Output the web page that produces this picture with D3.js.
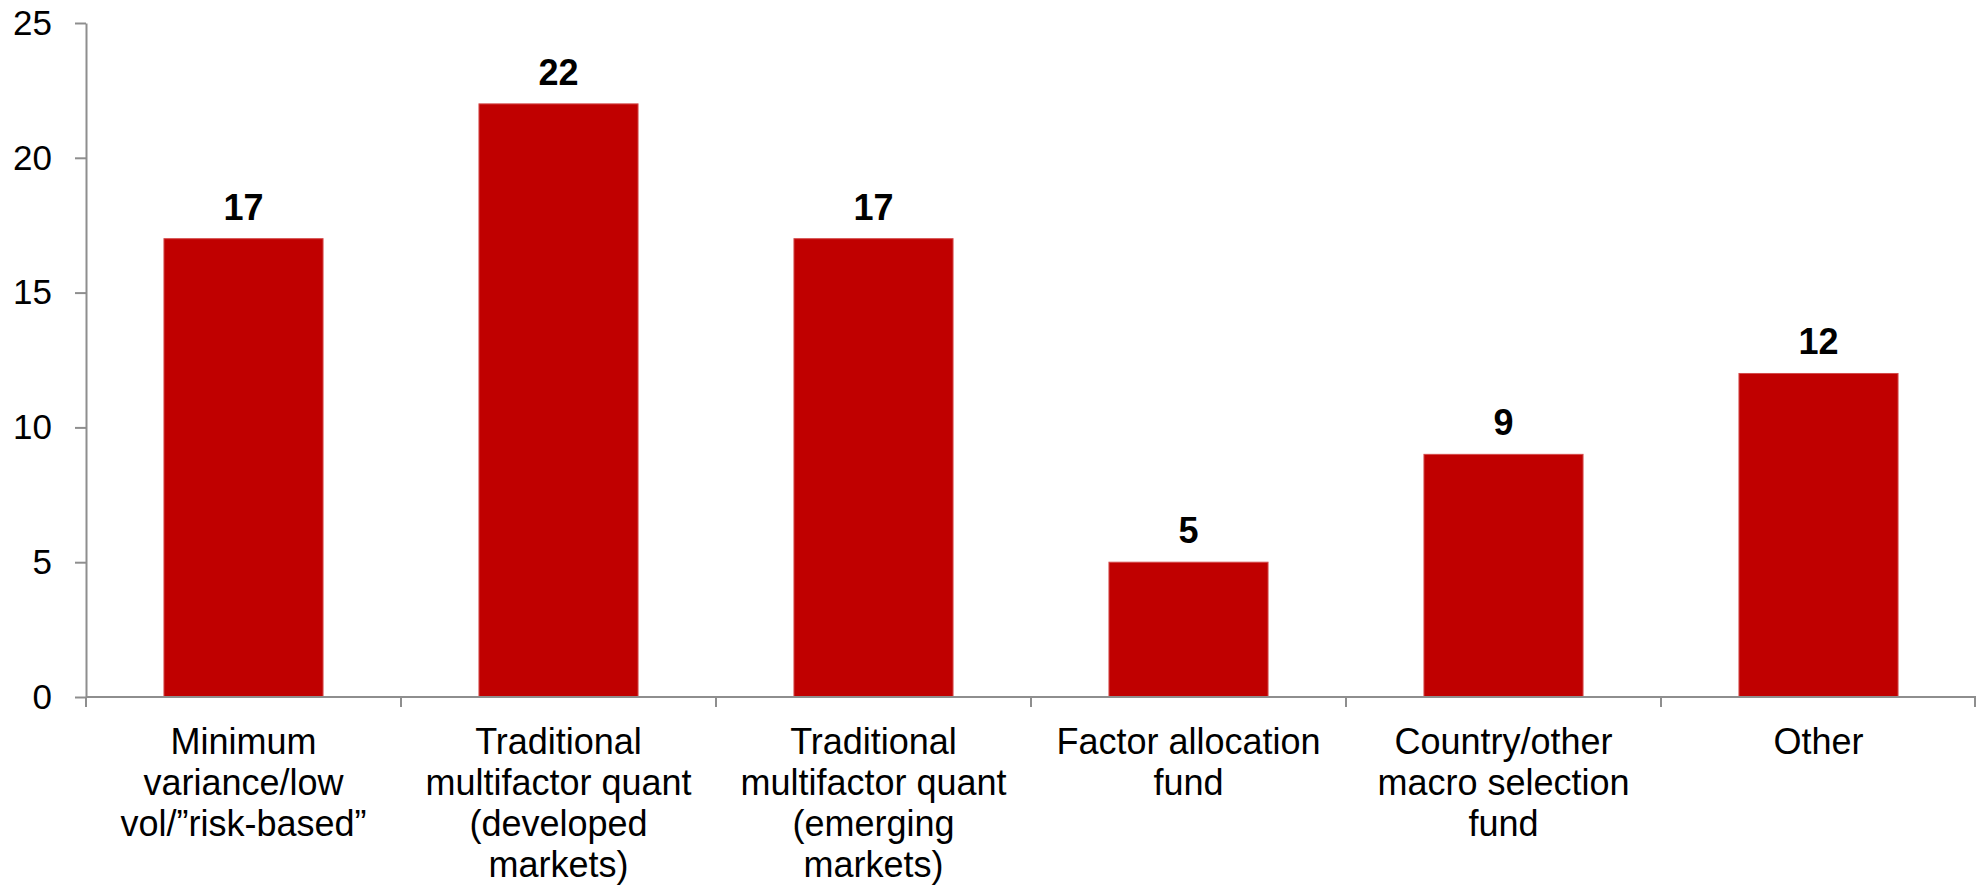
<!DOCTYPE html>
<html>
<head>
<meta charset="utf-8">
<script src="https://cdn.jsdelivr.net/npm/d3@7"></script>
<style>
  body { margin: 0; background: #fff; }
  text { font-family: "Liberation Sans", Arial, sans-serif; }
</style>
</head>
<body>
<svg id="chart" width="1985" height="890"></svg>
<script>
// categories (split into lines as in the original) and values
let categories = [
    ["Minimum", "variance/low", "vol/\u201drisk-based\u201d"],
    ["Traditional", "multifactor quant", "(developed", "markets)"],
    ["Traditional", "multifactor quant", "(emerging", "markets)"],
    ["Factor allocation", "fund"],
    ["Country/other", "macro selection", "fund"],
    ["Other"]
];
let values = [17, 22, 17, 5, 9, 12];
let yTicks = [0, 5, 10, 15, 20, 25];

function drawChart(){
    let svg = d3.select("#chart");
    let width = parseInt(svg.attr("width"));
    let height = parseInt(svg.attr("height"));
    let margin = {top: 23, right: 9, bottom: 193, left: 86};

    let keys = categories.map((c, i) => i);

    let x = d3.scaleBand()
        .domain(keys)
        .range([margin.left, width - margin.right])
        .paddingInner(0.495)
        .paddingOuter(0.2475);

    let y = d3.scaleLinear()
        .domain([0, 25])
        .range([height - margin.bottom, margin.top]);

    // bars
    svg.append("g").selectAll("rect")
        .data(values)
        .join("rect")
        .attr("x", (d, i) => x(i))
        .attr("y", d => y(d))
        .attr("width", x.bandwidth())
        .attr("height", d => y(0) - y(d))
        .attr("fill", "#C00000")
        .attr("stroke", "#d44a4a")
        .attr("stroke-width", 1);

    // y axis
    let yAxis = svg.append("g")
        .attr("transform", "translate(" + margin.left + ",0)")
        .call(d3.axisLeft(y).tickValues(yTicks).tickSize(11).tickSizeOuter(0).tickPadding(23));
    yAxis.select(".domain").attr("stroke", "#8e8e8e").attr("stroke-width", 2);
    yAxis.selectAll(".tick line").attr("stroke", "#8e8e8e").attr("stroke-width", 2);
    yAxis.selectAll(".tick text")
        .attr("font-size", 35)
        .attr("fill", "#000")
        .style("font-family", "'Liberation Sans', Arial, sans-serif");

    // x axis: baseline plus ticks between categories
    let xg = svg.append("g");
    xg.append("line")
        .attr("x1", margin.left).attr("x2", width - margin.right)
        .attr("y1", y(0)).attr("y2", y(0))
        .attr("stroke", "#8e8e8e").attr("stroke-width", 2);
    let bounds = d3.range(keys.length + 1).map(i => x.range()[0] + i * x.step() - (i == keys.length ? 1 : 0));
    xg.selectAll(".xtick")
        .data(bounds)
        .join("line")
        .attr("class", "xtick")
        .attr("x1", d => d).attr("x2", d => d)
        .attr("y1", y(0)).attr("y2", y(0) + 10)
        .attr("stroke", "#8e8e8e").attr("stroke-width", 2);

    // category labels
    let lineH = 41;
    xg.selectAll(".xlab")
        .data(categories)
        .join("text")
        .attr("class", "xlab")
        .attr("text-anchor", "middle")
        .attr("font-size", 36)
        .attr("fill", "#000")
        .each(function(lines, i){
            d3.select(this).selectAll("tspan")
                .data(lines)
                .join("tspan")
                .attr("x", x(i) + x.bandwidth() / 2)
                .attr("y", (l, j) => y(0) + 57 + j * lineH)
                .text(l => l);
        });

    // value labels
    svg.append("g").selectAll("text")
        .data(values)
        .join("text")
        .attr("x", (d, i) => x(i) + x.bandwidth() / 2)
        .attr("y", d => y(d) - 19)
        .attr("text-anchor", "middle")
        .attr("font-size", 36)
        .attr("font-weight", "bold")
        .attr("fill", "#000")
        .text(d => d);
}
drawChart();
</script>
</body>
</html>
